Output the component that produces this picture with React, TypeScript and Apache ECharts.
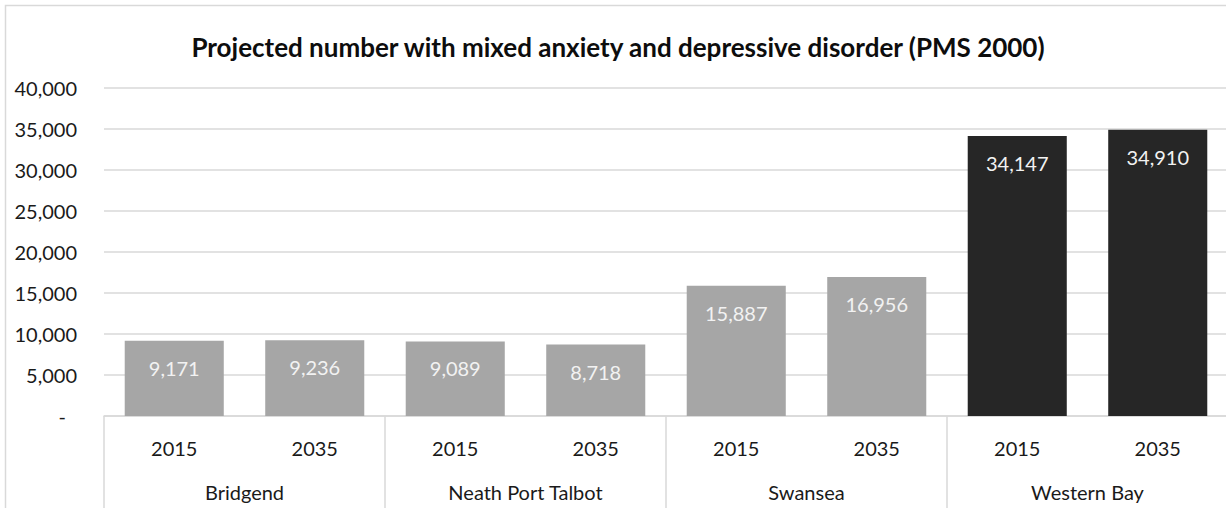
import React, { useEffect, useRef } from "react";
import * as echarts from "echarts";

const TITLE = "Projected number with mixed anxiety and depressive disorder (PMS 2000)";
const years = ["2015", "2035", "2015", "2035", "2015", "2035", "2015", "2035"];
const regions = ["Bridgend", "Neath Port Talbot", "Swansea", "Western Bay"];
const values = [9171, 9236, 9089, 8718, 15887, 16956, 34147, 34910];
const barColors = ["#a6a6a6", "#a6a6a6", "#a6a6a6", "#a6a6a6", "#a6a6a6", "#a6a6a6", "#262626", "#262626"];
const yMin = 0;
const yMax = 40000;
const yStep = 5000;

const FONT = "Lato";
const FS = 20;

export default function App() {
  const ref = useRef<HTMLDivElement>(null);
  useEffect(() => {
    if (!ref.current) return;
    const chart = echarts.init(ref.current, null, { renderer: "svg" });
    const fmt = (v: number) => v.toLocaleString("en-US");
    chart.setOption({
      animation: false,
      textStyle: { fontFamily: FONT },
      graphic: [
        {
          type: "rect",
          shape: { x: 5.5, y: 5.5, width: 1224, height: 600 },
          style: { fill: "none", stroke: "#d9d9d9", lineWidth: 1.5 },
          silent: true,
        },
        {
          type: "text",
          x: 618,
          y: 47,
          style: {
            text: TITLE,
            fontFamily: FONT,
            fontWeight: "bold",
            fontSize: 26,
            fill: "#0d0d0d",
            textAlign: "center",
            textVerticalAlign: "middle",
          },
        },
      ],
      grid: { left: 104, top: 88, width: 1124, height: 328, containLabel: false },
      xAxis: [
        {
          type: "category",
          data: years,
          position: "bottom",
          axisLine: { show: true, lineStyle: { color: "#d9d9d9", width: 1.5 } },
          axisTick: { show: false },
          axisLabel: { interval: 0, margin: 22, color: "#1a1a1a", fontSize: FS, fontFamily: FONT },
        },
        {
          type: "category",
          data: regions,
          position: "bottom",
          axisLine: { show: false },
          axisTick: { show: true, interval: 0, length: 110, lineStyle: { color: "#d9d9d9", width: 1.5 } },
          axisLabel: { interval: 0, margin: 66, color: "#1a1a1a", fontSize: FS, fontFamily: FONT },
        },
      ],
      yAxis: {
        type: "value",
        min: yMin,
        max: yMax,
        interval: yStep,
        axisLine: { show: false },
        axisTick: { show: false },
        splitLine: { lineStyle: { color: "#d9d9d9", width: 1.5 } },
        axisLabel: {
          margin: 27,
          color: "#1a1a1a",
          fontSize: FS,
          fontFamily: FONT,
          formatter: (v: number) => (v === 0 ? "{d|-}" : fmt(v)),
          rich: { d: { fontSize: FS, fontFamily: FONT, color: "#1a1a1a", padding: [0, 11, 0, 0] } },
        },
      },
      series: [
        {
          type: "bar",
          xAxisIndex: 0,
          barCategoryGap: "29.5%",
          data: values.map((v, i) => ({ value: v, itemStyle: { color: barColors[i] } })),
          label: {
            show: true,
            position: "insideTop",
            distance: 17,
            color: "#f2f2f2",
            fontSize: FS,
            fontFamily: FONT,
            formatter: (p: any) => fmt(p.value),
          },
        },
      ],
    });
    return () => chart.dispose();
  }, []);
  return (
    <div style={{ position: "fixed", left: 0, top: 0, width: 1226, height: 508, overflow: "hidden", background: "#fff" }}>
      <div ref={ref} style={{ position: "absolute", left: 0, top: 0, width: 1240, height: 520 }} />
    </div>
  );
}
